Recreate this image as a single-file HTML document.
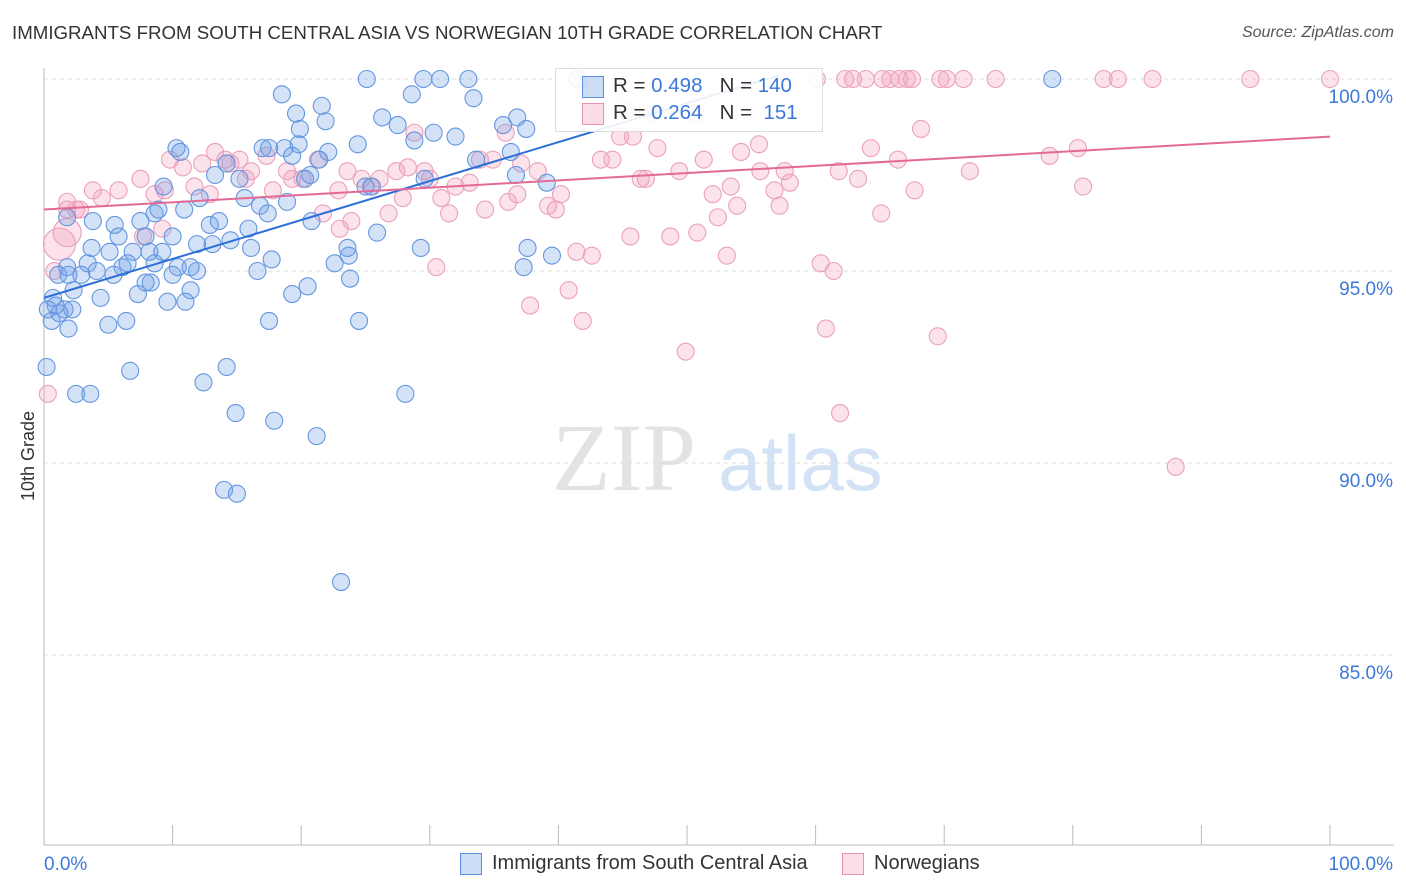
<!DOCTYPE html>
<html><head><meta charset="utf-8">
<style>
body{margin:0;background:#fff;font-family:"Liberation Sans",sans-serif;}
#wrap{position:relative;width:1406px;height:892px;overflow:hidden;}
.t{position:absolute;white-space:nowrap;}
</style></head>
<body>
<div id="wrap">
<div class="t" style="left:12px;top:22px;font-size:18.7px;color:#333;">IMMIGRANTS FROM SOUTH CENTRAL ASIA VS NORWEGIAN 10TH GRADE CORRELATION CHART</div>
<div class="t" style="right:12px;top:24px;font-size:16px;color:#555;font-style:italic;">Source: ZipAtlas.com</div>
<svg id="svg" width="1406" height="892" style="position:absolute;left:0;top:0"></svg>
</div>
<script>
const yTicks=[100,95,90,85];
const yTickLabels=["100.0%","95.0%","90.0%","85.0%"];
const xTickLabels=["0.0%","100.0%"];
const blueX=[25.1,29.5,30.8,33,41.5,78.4,18.5,28.6,33.4,21.6,19.6,26.3,36.8,27.5,35.7,19.9,30.3,32,37.5,21.9,24.4,28.8,10.3,17,18.7,19.8,10.6,17.5,19.3,22.1,36.3,33.6,21.4,14.2,15.2,20.7,13.3,9.3,25,25.5,29.6,39.1,36.7,20.3,12.1,15.6,16.8,18.9,7.5,8.6,10.9,8.9,1.8,3.8,5.5,5.8,7.9,10,12.9,13.6,15.9,13.1,14.5,11.9,17.4,20.8,25.9,16.1,29.3,37.6,39.5,3.7,5.1,6.9,8.2,9.2,1.8,3.4,4.1,6.1,6.5,8.6,10.4,11.4,11.9,17.7,22.6,23.7,23.6,1.1,2.9,1.9,5.4,8.3,10,16.6,37.3,23.8,2.3,0.7,4.4,7.3,7.9,11.4,20.5,19.3,0.9,1.6,2.2,0.3,1.2,9.6,11,1.9,5,6.4,17.5,24.5,6.7,12.4,14.2,2.5,3.6,28.1,14.9,17.9,21.2,14,15,23.1,0.2,0.6];
const blueY=[100,100,100,100,100,100,99.6,99.6,99.5,99.3,99.1,99.0,99.0,98.8,98.8,98.7,98.6,98.5,98.7,98.9,98.3,98.4,98.2,98.2,98.2,98.3,98.1,98.2,98.0,98.1,98.1,97.9,97.9,97.8,97.4,97.5,97.5,97.2,97.2,97.2,97.4,97.3,97.5,97.4,96.9,96.9,96.7,96.8,96.3,96.5,96.6,96.6,96.4,96.3,96.2,95.9,95.9,95.9,96.2,96.3,96.1,95.7,95.8,95.7,96.5,96.3,96.0,95.6,95.6,95.6,95.4,95.6,95.5,95.5,95.5,95.5,95.1,95.2,95.0,95.1,95.2,95.2,95.1,95.1,95.0,95.3,95.2,95.4,95.6,94.9,94.9,94.9,94.9,94.7,94.9,95.0,95.1,94.8,94.5,94.3,94.3,94.4,94.7,94.5,94.6,94.4,94.1,94.0,94.0,94.0,93.9,94.2,94.2,93.5,93.6,93.7,93.7,93.7,92.4,92.1,92.5,91.8,91.8,91.8,91.3,91.1,90.7,89.3,89.2,86.9,92.5,93.7];
const blueBig={132:12,133:11};
const pinkX=[60.1,62.3,62.9,63.9,65.2,65.8,66.5,67.1,67.5,69.7,70.2,71.5,74,82.4,83.5,86.2,93.8,100,43.1,45.3,47.4,50.7,68.2,28.8,35.9,44.8,45.8,47.7,51.3,54.2,55.6,64.3,66.4,78.2,80.4,13.3,17.3,15.2,14.1,14.5,16.1,9.8,10.8,12.3,18.9,21.3,23.6,24.7,26.1,27.4,28.3,29.6,33.9,34.9,37.1,38.4,43.3,44.2,46.4,46.8,49.4,55.7,57.6,61.8,63.3,67.7,72,80.8,7.5,5.8,3.8,4.5,1.8,2.5,2.8,8.6,9.4,11.7,12.9,15.7,17.8,19.3,20.1,22.9,25.4,27.9,30,32,33.1,30.9,36.8,40.2,53.4,56.8,58,52,53.9,57.2,52.4,65.1,31.5,34.3,36.1,39.2,39.8,26.8,21.7,23.9,1.8,9.2,7.7,23,45.6,48.7,50.8,41.4,42.6,53.1,60.4,61.4,30.5,40.8,37.8,41.9,60.8,69.5,49.9,61.9,88,0.3,0.8,1.2,1.8];
const pinkY=[100,100,100,100,100,100,100,100,100,100,100,100,100,100,100,100,100,100,99.1,99.2,99.1,99.1,98.7,98.6,98.6,98.5,98.5,98.2,97.9,98.1,98.3,98.2,97.9,98.0,98.2,98.1,98.0,97.9,97.9,97.8,97.6,97.9,97.7,97.8,97.6,97.9,97.6,97.4,97.4,97.6,97.7,97.6,97.9,97.9,97.8,97.6,97.9,97.9,97.4,97.4,97.6,97.6,97.6,97.6,97.4,97.1,97.6,97.2,97.4,97.1,97.1,96.9,96.8,96.6,96.6,97.0,97.1,97.2,97.0,97.4,97.1,97.4,97.4,97.1,97.2,96.9,97.4,97.2,97.3,96.9,97.0,97.0,97.2,97.1,97.3,97.0,96.7,96.7,96.4,96.5,96.5,96.6,96.8,96.7,96.6,96.5,96.5,96.3,96.6,96.1,95.9,96.1,95.9,95.9,96.0,95.5,95.4,95.4,95.2,95.0,95.1,94.5,94.1,93.7,93.5,93.3,92.9,91.3,89.9,91.8,95.0,95.7,96.0];
const pinkBig={131:16,132:14,133:11,134:9};
const blueLine=[[0,94.3],[57.2,100.1]];
const pinkLine=[[0,96.6],[100,98.5]];

const X=v=>44+v*12.86, Y=v=>79+(100-v)*38.4;
const svg=document.getElementById('svg');
const NS='http://www.w3.org/2000/svg';
function mk(t,a){const e=document.createElementNS(NS,t);for(const k in a)e.setAttribute(k,a[k]);svg.appendChild(e);return e;}
let w=mk('text',{x:552,y:490,'font-size':96,fill:'#e3e3e3','font-family':'Liberation Serif,serif'});w.textContent='ZIP';

w=mk('text',{x:718,y:490,'font-size':78,fill:'#d3e2f5','font-family':'Liberation Sans,sans-serif'});w.textContent='atlas';

yTicks.forEach((t,i)=>{
 const g=mk('line',{x1:44,x2:1394,y1:Y(t),y2:Y(t),stroke:'#ddd','stroke-dasharray':'4,4'});
 
 const l=mk('text',{x:1393,y:Y(t)+24,'text-anchor':'end','font-size':19,fill:'#3b78d8'});l.textContent=yTickLabels[i];
 
});
let a=mk('line',{x1:44,x2:44,y1:68,y2:845,stroke:'#bbb'});
a=mk('line',{x1:44,x2:1394,y1:845,y2:845,stroke:'#bbb'});
for(let i=0;i<=10;i++){const t=mk('line',{x1:X(i*10),x2:X(i*10),y1:825,y2:845,stroke:'#bbb'});}
let xl=mk('text',{x:44,y:870,'font-size':19,fill:'#3b78d8'});xl.textContent=xTickLabels[0];
xl=mk('text',{x:1393,y:870,'text-anchor':'end','font-size':19,fill:'#3b78d8'});xl.textContent=xTickLabels[1];
let yt=mk('text',{x:0,y:0,'font-size':18,fill:'#333',transform:'translate(34,456) rotate(-90)','text-anchor':'middle'});yt.textContent='10th Grade';

function pts(xs,ys,big,fill,stroke,name){
 xs.forEach((x,i)=>{const c=mk('circle',{cx:X(x),cy:Y(ys[i]),r:big[i]||8.5,fill:fill,stroke:stroke,'stroke-width':1.1});
 });
}
pts(pinkX,pinkY,pinkBig,'rgba(242,160,188,0.3)','#eba0bc','norwegians-point');
pts(blueX,blueY,blueBig,'rgba(110,160,230,0.3)','#6496e0','south-central-asia-point');
let ln=mk('line',{x1:X(blueLine[0][0]),y1:Y(blueLine[0][1]),x2:X(blueLine[1][0]),y2:Y(blueLine[1][1]),stroke:'#2b6fd6','stroke-width':2});

ln=mk('line',{x1:X(pinkLine[0][0]),y1:Y(pinkLine[0][1]),x2:X(pinkLine[1][0]),y2:Y(pinkLine[1][1]),stroke:'#e46a96','stroke-width':2});

</script>
<div class="t" style="left:555px;top:68px;width:266px;height:62px;background:rgba(255,255,255,0.9);border:1px solid #ddd;">
 <div class="t" style="left:26px;top:7px;width:20px;height:20px;background:rgba(110,160,230,0.35);border:1px solid #5b8ede;"></div>
 <div class="t" style="left:57px;top:5px;font-size:20.5px;color:#333;">R = <span style="color:#3b78d8">0.498</span>&nbsp;&nbsp;&nbsp;N = <span style="color:#3b78d8">140</span></div>
 <div class="t" style="left:26px;top:34px;width:20px;height:20px;background:rgba(242,160,188,0.35);border:1px solid #e993b3;"></div>
 <div class="t" style="left:57px;top:32px;font-size:20.5px;color:#333;">R = <span style="color:#3b78d8">0.264</span>&nbsp;&nbsp;&nbsp;N = &nbsp;<span style="color:#3b78d8">151</span></div>
</div>
<div class="t" style="left:460px;top:853px;width:20px;height:20px;background:rgba(110,160,230,0.35);border:1px solid #5b8ede;"></div>
<div class="t" style="left:492px;top:852px;font-size:20px;color:#333;">Immigrants from South Central Asia</div>
<div class="t" style="left:842px;top:853px;width:20px;height:20px;background:rgba(242,160,188,0.35);border:1px solid #e993b3;"></div>
<div class="t" style="left:874px;top:852px;font-size:20px;color:#333;">Norwegians</div>
</body></html>
